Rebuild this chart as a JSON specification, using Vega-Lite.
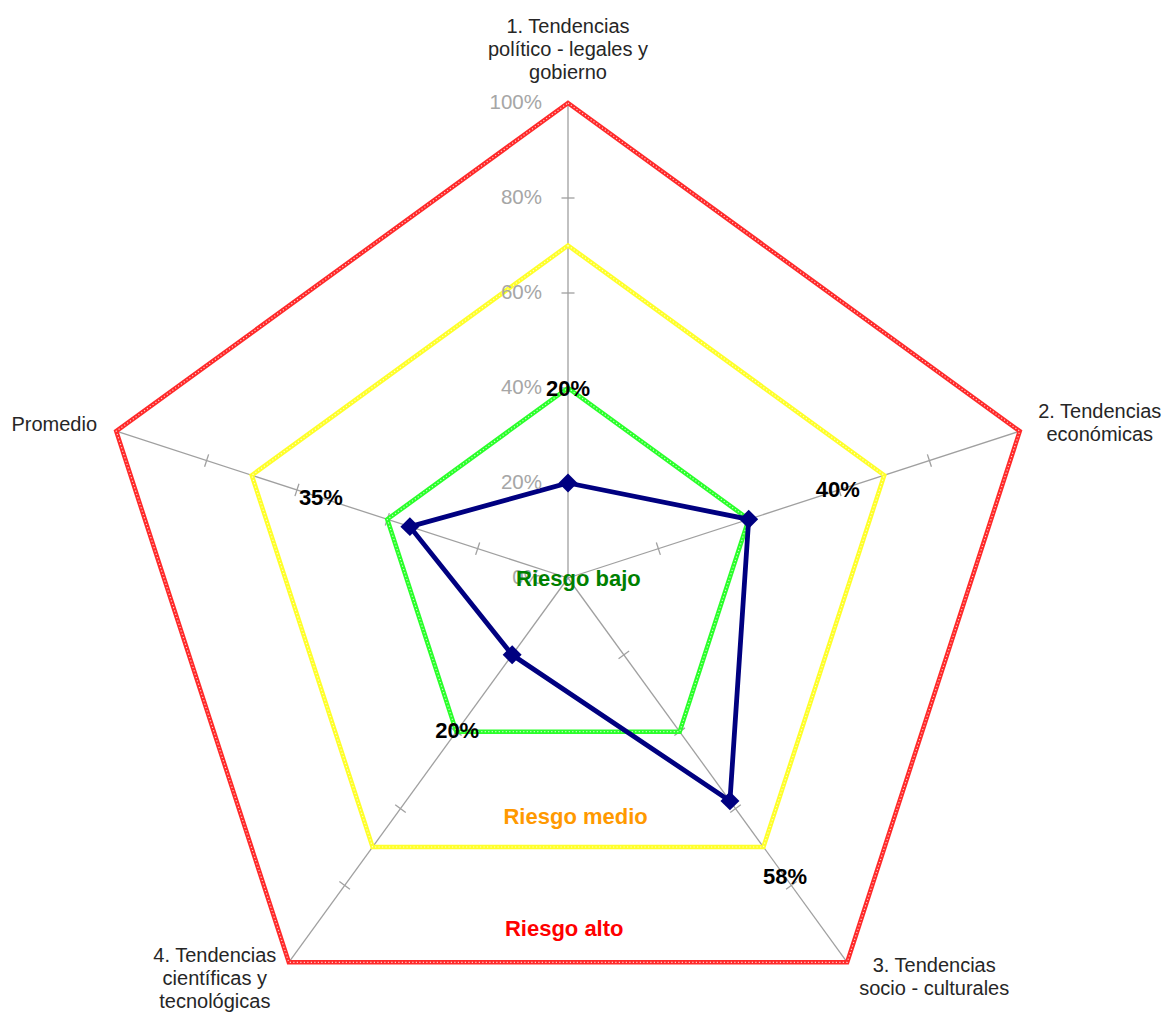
{
  "$schema": "https://vega.github.io/schema/vega-lite/v6.json",
  "width": 1167,
  "height": 1013,
  "autosize": "none",
  "padding": 0,
  "background": "white",
  "config": {
    "view": {"stroke": null},
    "text": {"font": "Liberation Sans"}
  },
  "datasets": {
    "axes": [
      {"k": 0, "name": "1. Tendencias\npolítico - legales y\ngobierno"},
      {"k": 1, "name": "2. Tendencias\neconómicas"},
      {"k": 2, "name": "3. Tendencias\nsocio - culturales"},
      {"k": 3, "name": "4. Tendencias\ncientíficas y\ntecnológicas"},
      {"k": 4, "name": "Promedio"}
    ],
    "zones": [
      {"zone": "Riesgo alto", "k": 0, "value": 1.0},
      {"zone": "Riesgo alto", "k": 1, "value": 1.0},
      {"zone": "Riesgo alto", "k": 2, "value": 1.0},
      {"zone": "Riesgo alto", "k": 3, "value": 1.0},
      {"zone": "Riesgo alto", "k": 4, "value": 1.0},
      {"zone": "Riesgo medio", "k": 0, "value": 0.7},
      {"zone": "Riesgo medio", "k": 1, "value": 0.7},
      {"zone": "Riesgo medio", "k": 2, "value": 0.7},
      {"zone": "Riesgo medio", "k": 3, "value": 0.7},
      {"zone": "Riesgo medio", "k": 4, "value": 0.7},
      {"zone": "Riesgo bajo", "k": 0, "value": 0.4},
      {"zone": "Riesgo bajo", "k": 1, "value": 0.4},
      {"zone": "Riesgo bajo", "k": 2, "value": 0.4},
      {"zone": "Riesgo bajo", "k": 3, "value": 0.4},
      {"zone": "Riesgo bajo", "k": 4, "value": 0.4}
    ],
    "risk": [
      {"k": 0, "value": 0.20},
      {"k": 1, "value": 0.40},
      {"k": 2, "value": 0.58},
      {"k": 3, "value": 0.20},
      {"k": 4, "value": 0.35}
    ],
    "ticks": [
      {"k": 0, "r": 0.2}, {"k": 0, "r": 0.4}, {"k": 0, "r": 0.6}, {"k": 0, "r": 0.8},
      {"k": 1, "r": 0.2}, {"k": 1, "r": 0.4}, {"k": 1, "r": 0.6}, {"k": 1, "r": 0.8},
      {"k": 2, "r": 0.2}, {"k": 2, "r": 0.4}, {"k": 2, "r": 0.6}, {"k": 2, "r": 0.8},
      {"k": 3, "r": 0.2}, {"k": 3, "r": 0.4}, {"k": 3, "r": 0.6}, {"k": 3, "r": 0.8},
      {"k": 4, "r": 0.2}, {"k": 4, "r": 0.4}, {"k": 4, "r": 0.6}, {"k": 4, "r": 0.8}
    ],
    "grid": [
      {"pct": 0.0}, {"pct": 0.2}, {"pct": 0.4}, {"pct": 0.6}, {"pct": 0.8}, {"pct": 1.0}
    ],
    "zoneNames": [
      {"zone": "Riesgo bajo"},
      {"zone": "Riesgo medio"},
      {"zone": "Riesgo alto"}
    ]
  },
  "encoding": {
    "x": {"field": "x", "type": "quantitative", "scale": {"domain": [-1.19579, 1.26105], "nice": false, "zero": false}, "axis": null},
    "y": {"field": "y", "type": "quantitative", "scale": {"domain": [-0.91579, 1.21684], "nice": false, "zero": false}, "axis": null}
  },
  "layer": [
    {
      "data": {"name": "axes"},
      "transform": [
        {"calculate": "PI/2 - datum.k*2*PI/5", "as": "theta"},
        {"calculate": "cos(datum.theta)", "as": "x"},
        {"calculate": "sin(datum.theta)", "as": "y"},
        {"calculate": "0", "as": "x0"},
        {"calculate": "0", "as": "y0"}
      ],
      "mark": {"type": "rule", "color": "#a0a0a0", "strokeWidth": 1.3},
      "encoding": {
        "x2": {"field": "x0"},
        "y2": {"field": "y0"}
      }
    },
    {
      "data": {"name": "ticks"},
      "transform": [
        {"calculate": "PI/2 - datum.k*2*PI/5", "as": "theta"},
        {"calculate": "datum.r*cos(datum.theta)", "as": "x"},
        {"calculate": "datum.r*sin(datum.theta)", "as": "y"},
        {"calculate": "datum.k*72", "as": "rot"}
      ],
      "mark": {"type": "point", "shape": "M -1 0 L 1 0", "filled": false, "stroke": "#a0a0a0", "strokeWidth": 1.3, "size": 170, "opacity": 1},
      "encoding": {
        "angle": {"field": "rot", "type": "quantitative", "scale": null}
      }
    },
    {
      "data": {"name": "zones"},
      "transform": [
        {"calculate": "PI/2 - datum.k*2*PI/5", "as": "theta"},
        {"calculate": "datum.value*cos(datum.theta)", "as": "x"},
        {"calculate": "datum.value*sin(datum.theta)", "as": "y"}
      ],
      "mark": {"type": "line", "interpolate": "linear-closed", "strokeWidth": 4.5, "strokeJoin": "miter"},
      "encoding": {
        "color": {"field": "zone", "type": "nominal", "scale": {"domain": ["Riesgo alto", "Riesgo medio", "Riesgo bajo"], "range": ["#ff2a2a", "#ffff2a", "#2aff2a"]}, "legend": null},
        "order": {"field": "k", "type": "quantitative"}
      }
    },
    {
      "data": {"name": "zones"},
      "transform": [
        {"calculate": "PI/2 - datum.k*2*PI/5", "as": "theta"},
        {"calculate": "datum.value*cos(datum.theta)", "as": "x"},
        {"calculate": "datum.value*sin(datum.theta)", "as": "y"}
      ],
      "mark": {"type": "line", "interpolate": "linear-closed", "strokeWidth": 1.2, "strokeDash": [1.2, 2.3], "color": "#ffffff", "opacity": 0.75},
      "encoding": {
        "detail": {"field": "zone", "type": "nominal"},
        "order": {"field": "k", "type": "quantitative"}
      }
    },
    {
      "data": {"name": "risk"},
      "transform": [
        {"calculate": "PI/2 - datum.k*2*PI/5", "as": "theta"},
        {"calculate": "datum.value*cos(datum.theta)", "as": "x"},
        {"calculate": "datum.value*sin(datum.theta)", "as": "y"}
      ],
      "mark": {"type": "line", "interpolate": "linear-closed", "strokeWidth": 4.8, "color": "#000080"},
      "encoding": {
        "order": {"field": "k", "type": "quantitative"}
      }
    },
    {
      "data": {"name": "risk"},
      "transform": [
        {"calculate": "PI/2 - datum.k*2*PI/5", "as": "theta"},
        {"calculate": "datum.value*cos(datum.theta)", "as": "x"},
        {"calculate": "datum.value*sin(datum.theta)", "as": "y"}
      ],
      "mark": {"type": "point", "shape": "diamond", "filled": true, "color": "#000080", "size": 360, "opacity": 1}
    },
    {
      "data": {"name": "risk"},
      "transform": [
        {"calculate": "PI/2 - datum.k*2*PI/5", "as": "theta"},
        {"calculate": "(datum.value + 0.197)*cos(datum.theta)", "as": "x"},
        {"calculate": "(datum.value + 0.197)*sin(datum.theta)", "as": "y"}
      ],
      "mark": {"type": "text", "fontSize": 22, "fontWeight": "bold", "color": "#000000", "align": "center", "baseline": "middle"},
      "encoding": {
        "text": {"field": "value", "type": "quantitative", "format": ".0%"}
      }
    },
    {
      "data": {"name": "grid"},
      "transform": [
        {"calculate": "0", "as": "x"},
        {"calculate": "datum.pct", "as": "y"}
      ],
      "mark": {"type": "text", "fontSize": 20.5, "color": "#a6a6a6", "align": "right", "baseline": "middle", "dx": -26},
      "encoding": {
        "text": {"field": "pct", "type": "quantitative", "format": ".0%"}
      }
    },
    {
      "data": {"name": "axes"},
      "transform": [
        {"filter": "datum.k == 0"},
        {"calculate": "0", "as": "x"},
        {"calculate": "1", "as": "y"}
      ],
      "mark": {"type": "text", "fontSize": 20, "color": "#262626", "align": "center", "baseline": "middle", "lineBreak": "\n", "lineHeight": 23, "dx": 0, "dy": -76},
      "encoding": {"text": {"field": "name"}}
    },
    {
      "data": {"name": "axes"},
      "transform": [
        {"filter": "datum.k == 1"},
        {"calculate": "cos(PI/2 - 2*PI/5)", "as": "x"},
        {"calculate": "sin(PI/2 - 2*PI/5)", "as": "y"}
      ],
      "mark": {"type": "text", "fontSize": 20, "color": "#262626", "align": "center", "baseline": "middle", "lineBreak": "\n", "lineHeight": 23, "dx": 80, "dy": -19},
      "encoding": {"text": {"field": "name"}}
    },
    {
      "data": {"name": "axes"},
      "transform": [
        {"filter": "datum.k == 2"},
        {"calculate": "cos(PI/2 - 4*PI/5)", "as": "x"},
        {"calculate": "sin(PI/2 - 4*PI/5)", "as": "y"}
      ],
      "mark": {"type": "text", "fontSize": 20, "color": "#262626", "align": "center", "baseline": "middle", "lineBreak": "\n", "lineHeight": 23, "dx": 87, "dy": 4},
      "encoding": {"text": {"field": "name"}}
    },
    {
      "data": {"name": "axes"},
      "transform": [
        {"filter": "datum.k == 3"},
        {"calculate": "cos(PI/2 - 6*PI/5)", "as": "x"},
        {"calculate": "sin(PI/2 - 6*PI/5)", "as": "y"}
      ],
      "mark": {"type": "text", "fontSize": 20, "color": "#262626", "align": "center", "baseline": "middle", "lineBreak": "\n", "lineHeight": 23, "dx": -74, "dy": -6},
      "encoding": {"text": {"field": "name"}}
    },
    {
      "data": {"name": "axes"},
      "transform": [
        {"filter": "datum.k == 4"},
        {"calculate": "cos(PI/2 - 8*PI/5)", "as": "x"},
        {"calculate": "sin(PI/2 - 8*PI/5)", "as": "y"}
      ],
      "mark": {"type": "text", "fontSize": 20, "color": "#262626", "align": "center", "baseline": "middle", "lineBreak": "\n", "lineHeight": 23, "dx": -62, "dy": -6},
      "encoding": {"text": {"field": "name"}}
    },
    {
      "data": {"name": "zoneNames"},
      "transform": [
        {"filter": "datum.zone == 'Riesgo bajo'"},
        {"calculate": "0.022", "as": "x"},
        {"calculate": "-0.002", "as": "y"}
      ],
      "mark": {"type": "text", "fontSize": 22, "fontWeight": "bold", "color": "#008000", "align": "center", "baseline": "middle"},
      "encoding": {"text": {"field": "zone"}}
    },
    {
      "data": {"name": "zoneNames"},
      "transform": [
        {"filter": "datum.zone == 'Riesgo medio'"},
        {"calculate": "0.016", "as": "x"},
        {"calculate": "-0.504", "as": "y"}
      ],
      "mark": {"type": "text", "fontSize": 22, "fontWeight": "bold", "color": "#ff9900", "align": "center", "baseline": "middle"},
      "encoding": {"text": {"field": "zone"}}
    },
    {
      "data": {"name": "zoneNames"},
      "transform": [
        {"filter": "datum.zone == 'Riesgo alto'"},
        {"calculate": "-0.008", "as": "x"},
        {"calculate": "-0.740", "as": "y"}
      ],
      "mark": {"type": "text", "fontSize": 22, "fontWeight": "bold", "color": "#ff0000", "align": "center", "baseline": "middle"},
      "encoding": {"text": {"field": "zone"}}
    }
  ]
}
